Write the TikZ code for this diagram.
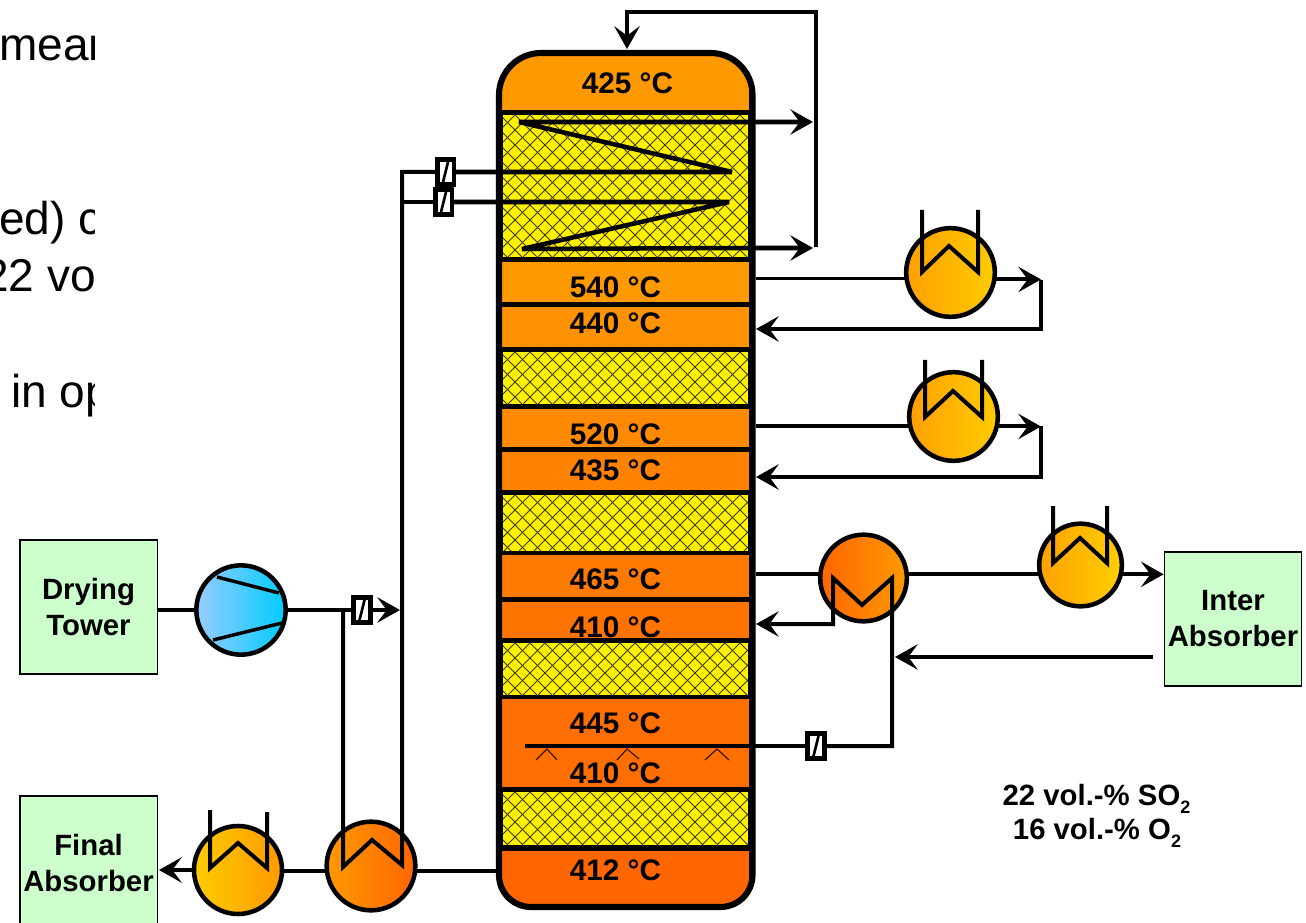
\documentclass[tikz,border=0pt]{standalone}
\usepackage{fontspec}
\setmainfont{Liberation Sans}
\usetikzlibrary{arrows.meta}
\definecolor{boxgreen}{HTML}{CCFFCC}
\definecolor{hatchcol}{HTML}{3A3A00}
\tikzset{
  x=0.75pt,y=-0.75pt,
  pipe/.style={line width=3pt,draw=black,miter limit=10},
  thinpipe/.style={line width=2.25pt,draw=black},
  tip/.style={-{Stealth[length=17pt,width=19pt,inset=7pt]}},
  hx/.style={circle,draw=black,line width=3.4pt,inner sep=0pt,outer sep=0pt,shading=axis,shading angle=90},
  coil/.style={line width=3.4pt,draw=black,line join=bevel},
  lbl/.style={anchor=base,inner sep=0pt,font=\fontsize{22.3}{26}\selectfont\bfseries},
  bigtxt/.style={anchor=base west,inner sep=0pt,font=\fontsize{34.5}{40}\selectfont},
  compo/.style={anchor=base,inner sep=0pt,font=\fontsize{22}{26}\selectfont\bfseries},
  unitbox/.style={rectangle,draw=black,line width=1pt,fill=boxgreen,inner sep=0pt,align=center,
    minimum width=103pt,minimum height=100.5pt,font=\fontsize{22}{27}\selectfont\bfseries},
  valve/.style={rectangle,draw=black,line width=3.4pt,fill=white,inner sep=0pt,outer sep=0pt,
    minimum width=12.4pt,minimum height=18.4pt,
    path picture={\draw[line width=2pt]
      ([shift={(-2.5,10)}]path picture bounding box.center) -- ([shift={(2.5,-10)}]path picture bounding box.center);}},
  spray/.style={line width=0.9pt,draw=black!80!orange}
}
\newcommand{\catbed}[2]{%
  \begin{scope}
    \clip (503,#1) rectangle (748,#2);
    \fill[yellow] (503,#1) rectangle (748,#2);
    \foreach \k in {200,215,...,1000}{
      \draw[hatchcol,line width=0.72pt] (\k,#1) -- ({\k+#2-#1},#2);
      \draw[hatchcol,line width=0.72pt] (\k,#1) -- ({\k-#2+#1},#2);
    }
  \end{scope}}
\newcommand{\sect}[3]{\fill[#3] (502,#1) rectangle (749,#2);}
\newcommand{\subtwo}{\raisebox{-6.7pt}{\fontsize{13.5}{12}\selectfont 2}}
\def\colpath{(499,480) [rounded corners=31.5pt] -- (499,53) -- (752.5,53) -- (752.5,480) [rounded corners=24pt] -- (752.5,907) -- (499,907) -- cycle}
\begin{document}
\begin{tikzpicture}
\useasboundingbox (0,0) rectangle (1306,923);
% clipped slide text
\begin{scope}
  \clip (0,0) rectangle (94,923);
  \node[bigtxt] (t1) at (-1,61) {mean};
  \node[bigtxt] (t2) at (-1,235) {ed) c};
  \node[bigtxt] (t3) at (-17,292) {22 vo};
  \node[bigtxt] (t4) at (11,407) {in op};
\end{scope}
% column
\fill[black] \colpath;
\begin{scope}
  \clip \colpath;
  \definecolor{c0}{HTML}{FF9900}
  \sect{56}{110}{c0}
  \sect{262}{302}{c0}
  \definecolor{c1}{HTML}{FF9200}\sect{307}{347}{c1}
  \definecolor{c2}{HTML}{FF8A00}\sect{409}{447}{c2}
  \definecolor{c3}{HTML}{FF8200}\sect{452}{490}{c3}
  \definecolor{c4}{HTML}{FF7A00}\sect{555}{597}{c4}
  \definecolor{c5}{HTML}{FF7400}\sect{602}{638}{c5}
  \definecolor{c6}{HTML}{FF6E00}\sect{699}{787}{c6}
  \definecolor{c7}{HTML}{FF6600}\sect{851}{904}{c7}
\end{scope}
\catbed{115}{257}
\catbed{352}{404}
\catbed{495}{551}
\catbed{643}{695}
\catbed{792}{845}
\draw[line width=4.6pt,black] \colpath;
\node[minimum width=190.125pt,minimum height=640.5pt,inner sep=0pt,outer sep=0pt] (col) at (625.75,480) {};
\coordinate (colE) at (756,480);
\coordinate (colW) at (496,480);
\coordinate (colT) at (627,49);
% temperature labels
\node[lbl] (T1) at (627.5,93.5) {425 °C};
\node[lbl] (T2) at (615.5,298) {540 °C};
\node[lbl] (T3) at (615.5,334) {440 °C};
\node[lbl] (T4) at (615.5,444.5) {520 °C};
\node[lbl] (T5) at (615.5,480.5) {435 °C};
\node[lbl] (T6) at (615.5,589.5) {465 °C};
\node[lbl] (T7) at (615.5,637.5) {410 °C};
\node[lbl] (T8) at (615.5,733.5) {445 °C};
\node[lbl] (T9) at (615.5,783.5) {410 °C};
\node[lbl] (T10) at (615.5,880) {412 °C};
% boxes
\node[unitbox] (dry) at (88.5,607) {Drying\\Tower};
\node[unitbox] (fin) at (88.5,863) {Final\\Absorber};
\node[unitbox] (int) at (1233,619) {Inter\\Absorber};
% equipment
\node[hx,minimum size=66.5pt,left color={rgb,255:red,255;green,160;blue,0},right color={rgb,255:red,255;green,204;blue,0}] (hx1) at (950.5,272.5) {};
\node[hx,minimum size=66.5pt,left color={rgb,255:red,255;green,160;blue,0},right color={rgb,255:red,255;green,204;blue,0}] (hx2) at (953.5,416.5) {};
\node[hx,minimum size=65pt,left color={rgb,255:red,255;green,102;blue,0},right color={rgb,255:red,255;green,153;blue,0}] (hx3) at (863.5,578) {};
\node[hx,minimum size=62pt,left color={rgb,255:red,255;green,160;blue,0},right color={rgb,255:red,255;green,208;blue,0}] (hx4) at (1080.5,565) {};
\node[hx,minimum size=66.5pt,left color={rgb,255:red,255;green,153;blue,0},right color={rgb,255:red,255;green,102;blue,0}] (hx5) at (371,866) {};
\node[hx,minimum size=66pt,left color={rgb,255:red,255;green,204;blue,0},right color={rgb,255:red,255;green,153;blue,0}] (hx6) at (238,870) {};
\node[hx,minimum size=67pt,left color={rgb,255:red,153;green,204;blue,255},right color={rgb,255:red,0;green,204;blue,255}] (comp) at (241,610) {};
\node[valve] (v1) at (445.5,172) {};
\node[valve] (v2) at (443.5,202) {};
\node[valve] (v3) at (362,610) {};
\node[valve] (v4) at (816,746) {};
% compressor blades
\draw[pipe,line width=2.6pt] (217,577) -- (279,593);
\draw[pipe,line width=2.6pt] (213,640) -- (282,623);
% hairpins in exchangers
\draw[pipe] (922,210) -- (922,272) -- (949,246) -- (978,272) -- (978,210);
\draw[pipe] (925,360) -- (925,417) -- (953,391) -- (982,417) -- (982,360);
\draw[pipe] (1053,506) -- (1053,563) -- (1080,538) -- (1107,563) -- (1107,506);
\draw[pipe] (210,810) -- (210,868) -- (238,843) -- (267,868) -- (267,812);
% exchanger 1 loop
\coordinate (j1) at (1041,280);
\draw[thinpipe] (colE |- hx1.188.4) -- (hx1.188.4);
\draw[pipe,tip] (hx1.351.6) -- (hx1.351.6 -| j1);
\draw[pipe,tip] (j1) -- (1041,329) -- (colE |- 0,329);
% exchanger 2 loop
\coordinate (j2) at (1041,426);
\draw[pipe] (colE |- hx2.192.3) -- (hx2.192.3);
\draw[pipe,tip] (hx2.347.7) -- (hx2.347.7 -| j2);
\draw[pipe,tip] (j2) -- (1041,477) -- (colE |- 0,477);
% gas to inter absorber
\draw[pipe] (colE |- hx3.175) -- (hx3.175);
\draw[pipe] (hx3.5) -- (hx3.5 -| hx4.west);
\draw[pipe,tip] (hx4.347.3) -- (int.west |- hx4.347.3);
% inter absorber return
\coordinate (ret) at (1153,657);
\draw[pipe,tip] (ret) -- (895,657);
% hot exchanger with bypass
\draw[pipe,tip] (v4.east) -- (892,746) -- (892,578) -- (862,605) -- (833,578) -- (833,624) -- (colE |- 0,624);
\draw[pipe] (525,746) -- (v4.west);
% quench spray
\draw[spray] (536,760) -- (547,749) -- (557,760);
\draw[spray] (617,760) -- (627,749) -- (639,759);
\draw[spray] (705,760) -- (717,749) -- (729,760);
% bed one cooling coil
\coordinate (jt) at (816,122);
\coordinate (jb) at (816,247);
\draw[coil,tip] (v1.east) -- (732,172) -- (519,122) -- (813,122);
\draw[coil,tip] (v2.east) -- (729,202) -- (522,249) -- (750,248) -- (813,248);
\draw[pipe,tip] (jb) -- (816,12) -- (627,12) -- (colT);
% feed side
\draw[pipe] (dry.east |- comp) -- (comp.west);
\draw[pipe] (comp.east) -- (v3.west);
\draw[pipe,tip] (v3.east) -- (400,610);
\draw[pipe] (v1.west) -- (402,172) -- (402,865) -- (372,840) -- (343,867) -- (343,610);
\draw[pipe] (v2.west) -- (402,202);
% exit side
\draw[pipe] (colW |- hx5.353.6) -- (hx5.353.6);
\draw[pipe] (hx5.186.4) -- (hx6.east |- hx5.186.4);
\draw[pipe,tip] (hx6.west) -- (159,870);
% composition
\node[compo] (c1) at (1096.5,805) {22 vol.-\% SO\subtwo};
\node[compo] (c2) at (1097,839) {16 vol.-\% O\subtwo};
\end{tikzpicture}
\end{document}
